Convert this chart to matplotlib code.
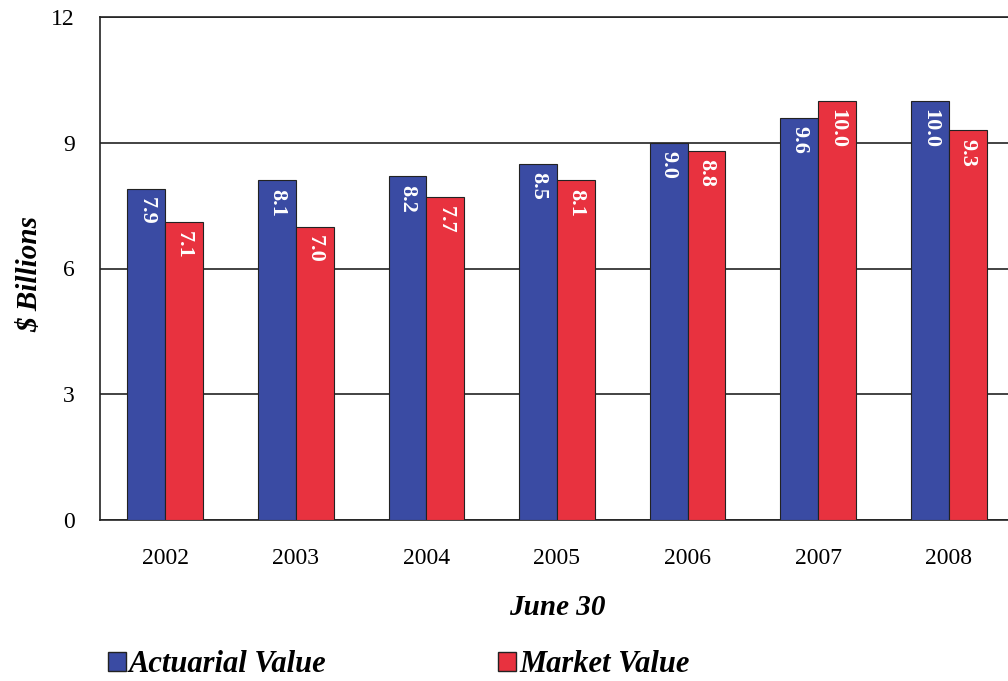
import matplotlib.pyplot as plt
from matplotlib.patches import Patch
import numpy as np

years = ["2002", "2003", "2004", "2005", "2006", "2007", "2008"]
actuarial = [7.9, 8.1, 8.2, 8.5, 9.0, 9.6, 10.0]
market = [7.1, 7.0, 7.7, 8.1, 8.8, 10.0, 9.3]

blue = "#3a4ba3"
red = "#e8323f"

plt.rcParams["font.family"] = ["Liberation Serif", "DejaVu Serif"]

fig = plt.figure(figsize=(10.08, 6.81), dpi=100)
ax = fig.add_axes([100 / 1008, 161 / 681, 914 / 1008, 503 / 681])

x = np.arange(len(years))
w = 0.29
b1 = ax.bar(x - w / 2, actuarial, w, color=blue, edgecolor="#222222", linewidth=0.8, zorder=3)
b2 = ax.bar(x + w / 2, market, w, color=red, edgecolor="#222222", linewidth=0.8, zorder=3)

for bars, vals in ((b1, actuarial), (b2, market)):
  for r, v in zip(bars, vals):
    ax.annotate(f"{v:.1f}", (r.get_x() + r.get_width() / 2, v), xytext=(0, -6),
                textcoords="offset points", ha="center", va="top", rotation=270,
                color="white", fontsize=16, fontweight="bold", zorder=4)

ax.set_xlim(-0.5, len(years) - 0.5)
ax.set_ylim(0, 12)
ax.set_yticks([0, 3, 6, 9, 12])
ax.set_xticks(x)
ax.set_xticklabels(years)
ax.tick_params(length=0, labelsize=17, pad=20)
ax.tick_params(axis="y", pad=18)
ax.yaxis.grid(True, color="#222222", linewidth=1.2, zorder=0)
for s in ax.spines.values():
  s.set_color("#222222")
  s.set_linewidth(1.2)
ax.spines["right"].set_visible(False)

ax.set_ylabel("\\$ Billions", fontsize=21, fontstyle="italic", fontweight="bold")
ax.yaxis.set_label_coords(-0.062, 0.49)
ax.set_xlabel("June 30", fontsize=21, fontstyle="italic", fontweight="bold", labelpad=18)

handles = [Patch(facecolor=blue, edgecolor="#222222"), Patch(facecolor=red, edgecolor="#222222")]
fig.legend(handles, ["Actuarial Value", "Market Value"], loc="center left",
           bbox_to_anchor=(80 / 1008, 16 / 681), ncol=2, frameon=False,
           prop={"size": 22, "style": "italic", "weight": "bold"},
           handlelength=0.6, handleheight=0.6, handletextpad=0.1, columnspacing=5.6)

fig.savefig("out.png", dpi=100)
